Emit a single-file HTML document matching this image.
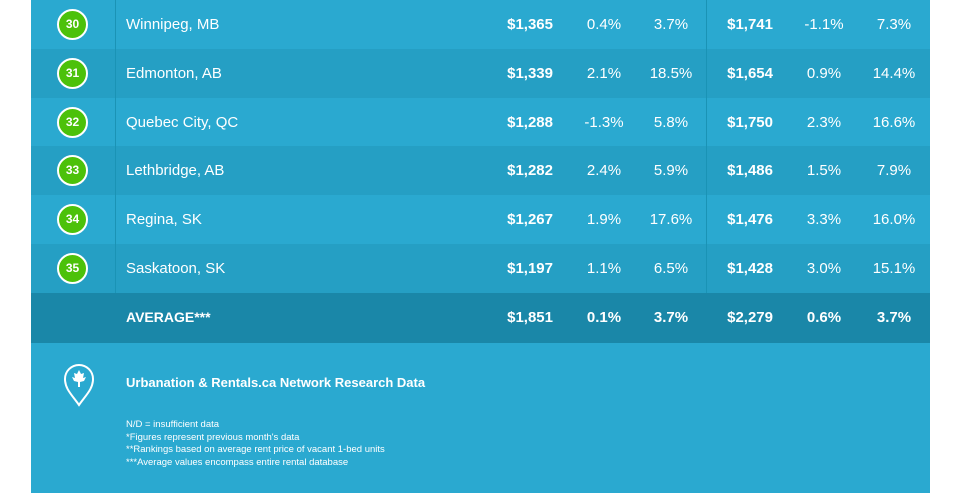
<!DOCTYPE html>
<html><head><style>
body{margin:0;background:#fff;width:958px;height:495px;overflow:hidden;font-family:"Liberation Sans",sans-serif;}
.panel{position:absolute;left:31px;top:0;width:899px;height:493px;background:#2aa9d0;}
.row{position:absolute;left:0;width:899px;height:49px;color:#fff;font-size:15px;}
.row.d{background:#259fc4}
.row.avg{background:#1a87a8;font-weight:bold}
.c{position:absolute;top:0;line-height:49px;}
.circ{position:absolute;left:26px;top:9px;width:27px;height:27px;border:2px solid #fff;border-radius:50%;background:#4cc10a;font-size:12px;font-weight:bold;text-align:center;line-height:27px;color:#fff}
.vl{position:absolute;top:0;width:1px;height:293px;background:#1a93b5;z-index:5}
.r{text-align:right}
.m{text-align:center}
</style></head><body>
<div class="panel">
<div class="row" style="top:0"><div class="circ">30</div><div class="c" style="left:95px">Winnipeg, MB</div><div class="c r" style="left:422px;width:100px;font-weight:bold">$1,365</div><div class="c m" style="left:543px;width:60px">0.4%</div><div class="c m" style="left:610px;width:60px">3.7%</div><div class="c r" style="left:642px;width:100px;font-weight:bold">$1,741</div><div class="c m" style="left:763px;width:60px">-1.1%</div><div class="c m" style="left:833px;width:60px">7.3%</div></div>
<div class="row d" style="top:49px"><div class="circ">31</div><div class="c" style="left:95px">Edmonton, AB</div><div class="c r" style="left:422px;width:100px;font-weight:bold">$1,339</div><div class="c m" style="left:543px;width:60px">2.1%</div><div class="c m" style="left:610px;width:60px">18.5%</div><div class="c r" style="left:642px;width:100px;font-weight:bold">$1,654</div><div class="c m" style="left:763px;width:60px">0.9%</div><div class="c m" style="left:833px;width:60px">14.4%</div></div>
<div class="row" style="top:98px"><div class="circ">32</div><div class="c" style="left:95px">Quebec City, QC</div><div class="c r" style="left:422px;width:100px;font-weight:bold">$1,288</div><div class="c m" style="left:543px;width:60px">-1.3%</div><div class="c m" style="left:610px;width:60px">5.8%</div><div class="c r" style="left:642px;width:100px;font-weight:bold">$1,750</div><div class="c m" style="left:763px;width:60px">2.3%</div><div class="c m" style="left:833px;width:60px">16.6%</div></div>
<div class="row d" style="top:146px"><div class="circ">33</div><div class="c" style="left:95px">Lethbridge, AB</div><div class="c r" style="left:422px;width:100px;font-weight:bold">$1,282</div><div class="c m" style="left:543px;width:60px">2.4%</div><div class="c m" style="left:610px;width:60px">5.9%</div><div class="c r" style="left:642px;width:100px;font-weight:bold">$1,486</div><div class="c m" style="left:763px;width:60px">1.5%</div><div class="c m" style="left:833px;width:60px">7.9%</div></div>
<div class="row" style="top:195px"><div class="circ">34</div><div class="c" style="left:95px">Regina, SK</div><div class="c r" style="left:422px;width:100px;font-weight:bold">$1,267</div><div class="c m" style="left:543px;width:60px">1.9%</div><div class="c m" style="left:610px;width:60px">17.6%</div><div class="c r" style="left:642px;width:100px;font-weight:bold">$1,476</div><div class="c m" style="left:763px;width:60px">3.3%</div><div class="c m" style="left:833px;width:60px">16.0%</div></div>
<div class="row d" style="top:244px"><div class="circ">35</div><div class="c" style="left:95px">Saskatoon, SK</div><div class="c r" style="left:422px;width:100px;font-weight:bold">$1,197</div><div class="c m" style="left:543px;width:60px">1.1%</div><div class="c m" style="left:610px;width:60px">6.5%</div><div class="c r" style="left:642px;width:100px;font-weight:bold">$1,428</div><div class="c m" style="left:763px;width:60px">3.0%</div><div class="c m" style="left:833px;width:60px">15.1%</div></div>
<div class="row avg" style="top:293px;height:50px"><div class="c" style="left:95px;font-size:14px">AVERAGE***</div><div class="c r" style="left:422px;width:100px">$1,851</div><div class="c m" style="left:543px;width:60px">0.1%</div><div class="c m" style="left:610px;width:60px">3.7%</div><div class="c r" style="left:642px;width:100px">$2,279</div><div class="c m" style="left:763px;width:60px">0.6%</div><div class="c m" style="left:833px;width:60px">3.7%</div></div>
<div class="vl" style="left:84px"></div>
<div class="vl" style="left:675px"></div>
<svg style="position:absolute;left:31px;top:362px" width="34" height="46" viewBox="0 0 34 46"><path d="M17 43 C10 33 3 27 3 17 A14 14 0 0 1 31 17 C31 27 24 33 17 43Z" fill="none" stroke="#fff" stroke-width="2"/><path d="M17 8 L19 12 L22 11 L21 16 L24 15 L22 19 L18 20 L18 25 L16 25 L16 20 L12 19 L10 15 L13 16 L12 11 L15 12Z" fill="#fff"/></svg>
<div style="position:absolute;left:95px;top:375px;color:#fff;font-weight:bold;font-size:13px">Urbanation &amp; Rentals.ca Network Research Data</div>
<div style="position:absolute;left:95px;top:419px;color:#fff;font-size:9.5px;line-height:12.5px">N/D = insufficient data<br>*Figures represent previous month's data<br>**Rankings based on average rent price of vacant 1-bed units<br>***Average values encompass entire rental database</div>
</div>
</body></html>
